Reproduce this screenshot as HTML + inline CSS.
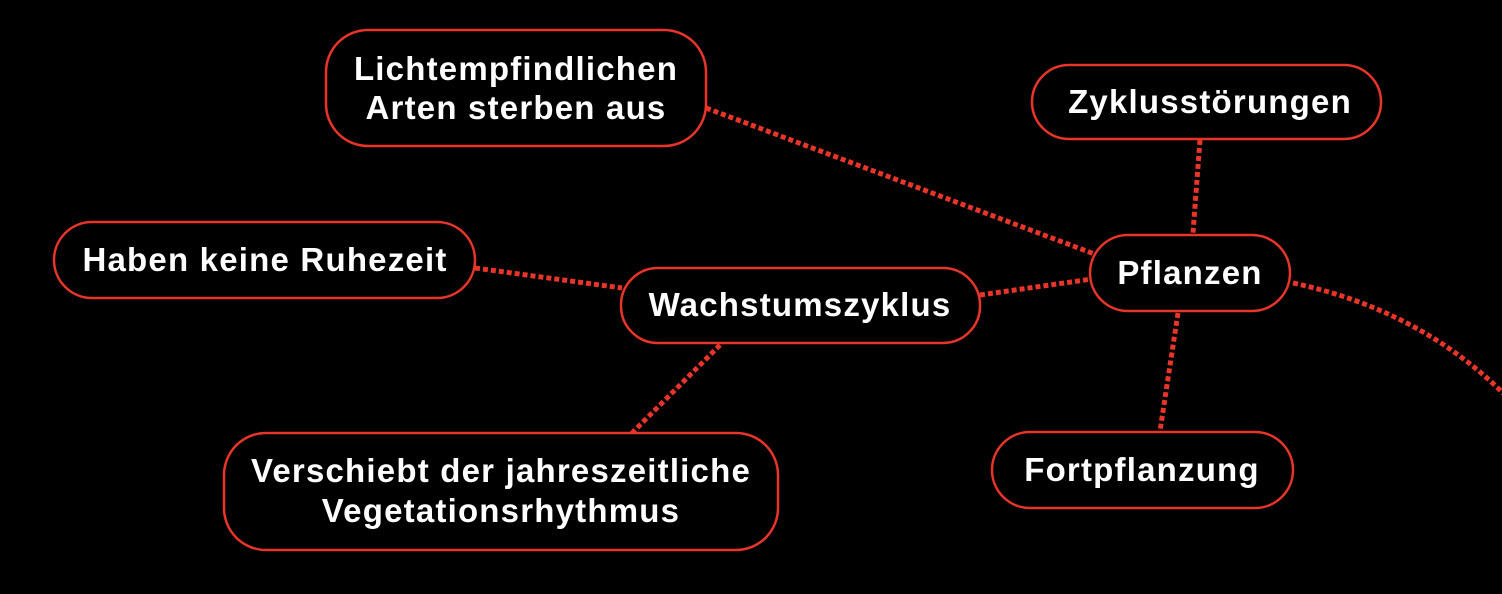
<!DOCTYPE html>
<html><head><meta charset="utf-8"><style>
html,body{margin:0;padding:0;background:#000;width:1502px;height:594px;overflow:hidden}
svg{display:block}
text{font-family:"Liberation Sans",Arial,sans-serif;font-weight:bold;font-size:33px;letter-spacing:1.2px;fill:#fff;text-anchor:middle}
.n{fill:#000;stroke:#e8352a;stroke-width:2.5}
.l{fill:none;stroke:#e8352a;stroke-width:5;stroke-dasharray:5 3}
</style></head><body>
<svg width="1502" height="594" viewBox="0 0 1502 594">
<path class="l" d="M706,108 L1097,255"/>
<path class="l" d="M1200,140 L1193,233"/>
<path class="l" d="M475,268 L622,288"/>
<path class="l" d="M980,295 L1092,279"/>
<path class="l" d="M720,345 L632,433"/>
<path class="l" d="M1178,313 L1160,431"/>
<path class="l" d="M1293,283 Q1420,310 1505,395"/>
<rect class="n" x="326" y="30" width="380" height="116" rx="42"/>
<text x="516" y="80">Lichtempfindlichen</text><text x="516" y="119">Arten sterben aus</text>
<rect class="n" x="1032" y="65" width="349" height="74" rx="37"/>
<text x="1210" y="113">Zyklusstörungen</text>
<rect class="n" x="54" y="222" width="421" height="76" rx="38"/>
<text x="265" y="271">Haben keine Ruhezeit</text>
<rect class="n" x="621" y="268" width="359" height="75" rx="37"/>
<text x="800" y="316">Wachstumszyklus</text>
<rect class="n" x="1090" y="235" width="200" height="76" rx="38"/>
<text x="1190" y="284">Pflanzen</text>
<rect class="n" x="224" y="433" width="554" height="117" rx="42"/>
<text x="501" y="482">Verschiebt der jahreszeitliche</text><text x="501" y="522">Vegetationsrhythmus</text>
<rect class="n" x="992" y="432" width="301" height="76" rx="38"/>
<text x="1142" y="481">Fortpflanzung</text>
</svg>
</body></html>
